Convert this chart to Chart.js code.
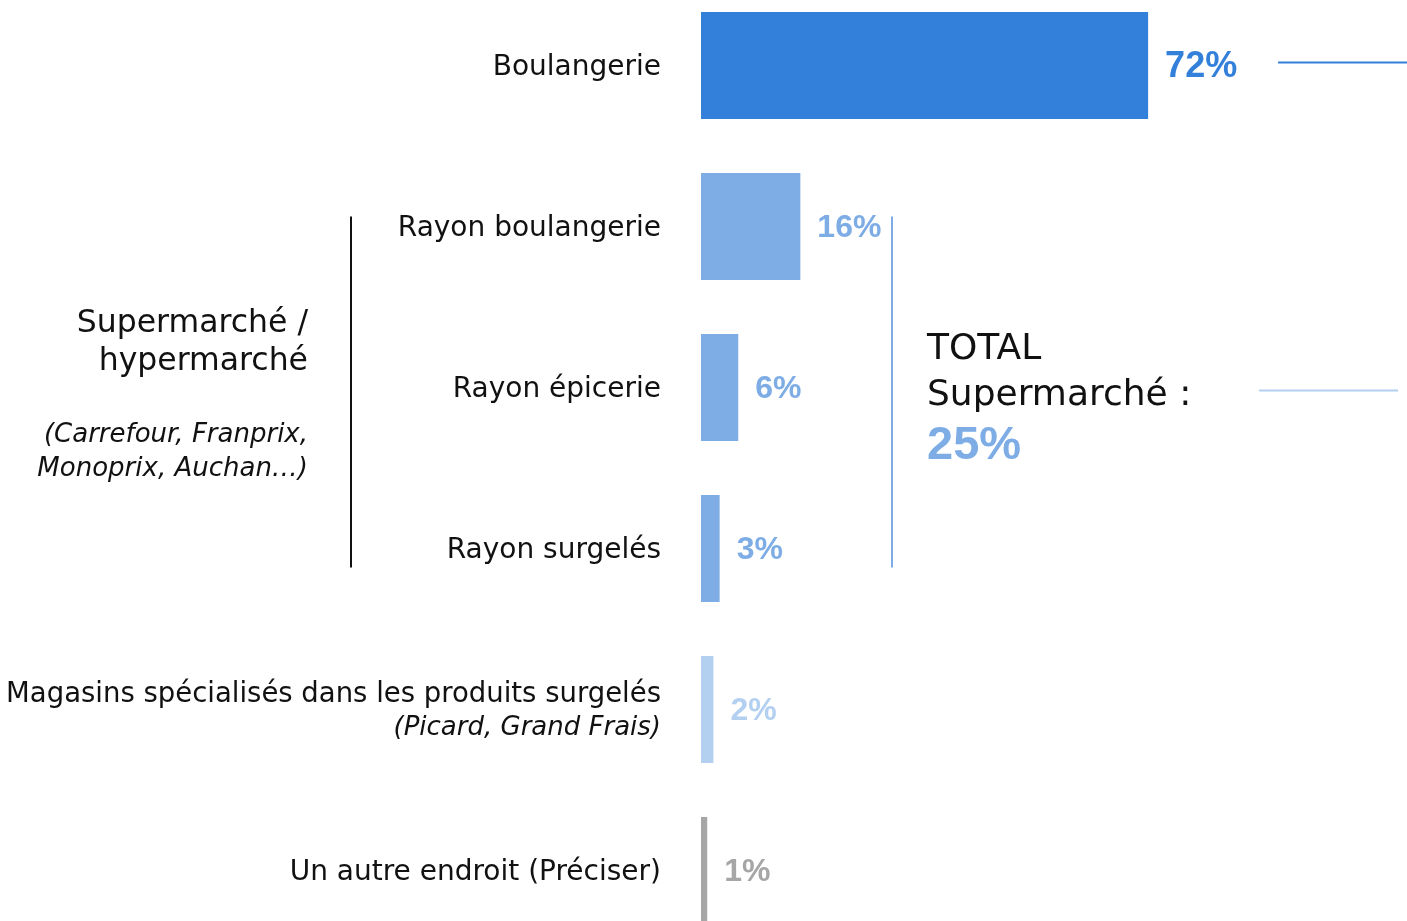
<!DOCTYPE html>
<html>
<head>
<meta charset="utf-8">
<script src="https://cdn.jsdelivr.net/npm/chart.js@4"></script>
<style>
  html, body { margin: 0; overflow: hidden; background: #fff; }
  #wrap { position: absolute; left: 0; top: -15px; width: 1407px; height: 966px; }
</style>
</head>
<body>
<div id="wrap"><canvas id="chart"></canvas></div>
<script>
const categories = [
  "Boulangerie",
  "Rayon boulangerie",
  "Rayon épicerie",
  "Rayon surgelés",
  "Magasins spécialisés dans les produits surgelés",
  "Un autre endroit (Préciser)",
];
const subLabels = ["", "", "", "", "(Picard, Grand Frais)", ""];
const values = [72, 16, 6, 3, 2, 1];
const valueLabels = ["72%", "16%", "6%", "3%", "2%", "1%"];
const groupTitle = ["Supermarché /", "hypermarché"];
const groupNote = ["(Carrefour, Franprix,", "Monoprix, Auchan…)"];
const totalLines = ["TOTAL", "Supermarché :"];
const totalValue = "25%";

const color = {
  dark: "#3380db",
  mid: "#7eade6",
  light: "#b4d0f1",
  grey: "#a6a6a6",
  text: "#111",
};
const barColors = [color.dark, color.mid, color.mid, color.mid, color.light, color.grey];

const labelFont = '"DejaVu Sans", sans-serif';
const valueFont = '"Liberation Sans", Arial, sans-serif';

// draws the category labels, value labels and the supermarket bracket
const annotations = {
  id: "annotations",
  afterDatasetsDraw(chart) {
    const ctx = chart.ctx;
    const yScale = chart.scales.y;
    const bars = chart.getDatasetMeta(0).data;
    const cy = (i) => yScale.getPixelForValue(i);
    ctx.save();

    // category labels
    ctx.textAlign = "right";
    ctx.textBaseline = "middle";
    ctx.fillStyle = color.text;
    categories.forEach((label, i) => {
      if (subLabels[i]) {
        ctx.font = "27.5px " + labelFont;
        ctx.fillText(label, 661, cy(i) - 15);
        ctx.font = "italic 26px " + labelFont;
        ctx.fillText(subLabels[i], 661, cy(i) + 19);
      } else {
        ctx.font = "28px " + labelFont;
        ctx.fillText(label, 661, cy(i) + 2);
      }
    });

    // value labels
    ctx.textAlign = "left";
    bars.forEach((bar, i) => {
      ctx.font = "bold " + (i === 0 ? 36 : 32) + "px " + valueFont;
      ctx.fillStyle = barColors[i];
      ctx.fillText(valueLabels[i], bar.x + 17, bar.y + 2);
    });

    // supermarket group
    const mid = cy(2);
    ctx.strokeStyle = "#111";
    ctx.lineWidth = 2;
    ctx.beginPath();
    ctx.moveTo(351, cy(1) - 10);
    ctx.lineTo(351, cy(3) + 19);
    ctx.stroke();

    ctx.textAlign = "right";
    ctx.fillStyle = color.text;
    ctx.font = "31.5px " + labelFont;
    ctx.fillText(groupTitle[0], 308, mid - 64);
    ctx.fillText(groupTitle[1], 308, mid - 26);
    ctx.font = "italic 26px " + labelFont;
    ctx.fillText(groupNote[0], 308, mid + 48);
    ctx.fillText(groupNote[1], 308, mid + 82);

    // total bracket
    ctx.strokeStyle = color.mid;
    ctx.beginPath();
    ctx.moveTo(892, cy(1) - 10);
    ctx.lineTo(892, cy(3) + 19);
    ctx.stroke();

    ctx.textAlign = "left";
    ctx.font = "36px " + labelFont;
    ctx.fillText(totalLines[0], 927, mid - 38);
    ctx.fillText(totalLines[1], 927, mid + 8);
    ctx.font = "bold 47px " + valueFont;
    ctx.fillStyle = color.mid;
    ctx.fillText(totalValue, 927, mid + 59);

    // connector stubs on the right
    ctx.lineWidth = 2;
    ctx.strokeStyle = color.dark;
    ctx.beginPath();
    ctx.moveTo(1278, cy(0) - 3);
    ctx.lineTo(1407, cy(0) - 3);
    ctx.stroke();
    ctx.strokeStyle = color.light;
    ctx.beginPath();
    ctx.moveTo(1259, mid + 3);
    ctx.lineTo(1398, mid + 3);
    ctx.stroke();

    ctx.restore();
  },
};

new Chart(document.getElementById("chart"), {
  type: "bar",
  data: {
    labels: categories,
    datasets: [
      {
        data: values,
        backgroundColor: barColors,
        borderWidth: 0,
        barPercentage: 0.665,
        categoryPercentage: 1,
      },
    ],
  },
  options: {
    indexAxis: "y",
    responsive: true,
    maintainAspectRatio: false,
    animation: false,
    layout: { padding: { left: 701, right: 85, top: 0, bottom: 0 } },
    plugins: { legend: { display: false }, tooltip: { enabled: false } },
    scales: {
      x: { display: false, min: 0, max: 100 },
      y: { display: false },
    },
  },
  plugins: [annotations],
});
</script>
</body>
</html>
